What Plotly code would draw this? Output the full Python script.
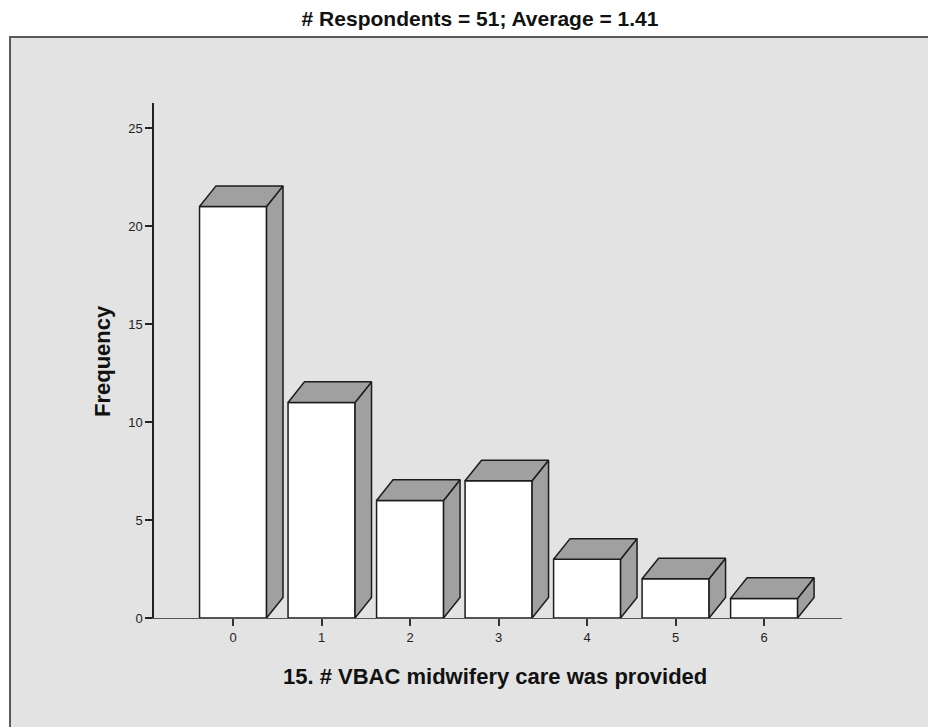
import plotly.graph_objects as go

# ---- data ----
categories = [0, 1, 2, 3, 4, 5, 6]
tick_labels = ["0", "1", "2", "3", "4", "5", "6"]
frequencies = [21, 11, 6, 7, 3, 2, 1]
y_ticks = [0, 5, 10, 15, 20, 25]
title_text = "# Respondents = 51; Average = 1.41"
x_title = "15. # VBAC midwifery care was provided"
y_title = "Frequency"

# ---- style ----
FONT = "Liberation Sans, Arial, sans-serif"
OFF = 8                     # page body margin in the browser
W, H = 936 - OFF, 727 - OFF
ML, MT = 154 - OFF, 103 - OFF
PW, PH = 688, 515
MR = W - ML - PW
MB = H - MT - PH
XR = [-0.893, 6.88]
YR = [0, 26.28]
BAR_W = 0.757
DX = 0.186     # depth offset in category units
DY = 1.05      # depth offset in value units
EDGE = "#1c1c1c"
SIDE = "#a0a0a0"
BG = "#e3e3e3"


def px_x(px):   # absolute page pixel -> paper x
    return (px - OFF - ML) / PW


def px_y(py):   # absolute page pixel -> paper y
    return (OFF + MT + PH - py) / PH


fig = go.Figure()

for c, v in zip(categories, frequencies):
    xl, xr = c - BAR_W / 2, c + BAR_W / 2
    # front face
    fig.add_trace(go.Scatter(
        x=[xl, xr, xr, xl, xl], y=[0, 0, v, v, 0],
        mode="lines", fill="toself", fillcolor="white",
        line=dict(color=EDGE, width=1.5), hoverinfo="skip", showlegend=False))
    # side face
    fig.add_trace(go.Scatter(
        x=[xr, xr, xr + DX, xr + DX, xr], y=[0, v, v + DY, DY, 0],
        mode="lines", fill="toself", fillcolor=SIDE,
        line=dict(color=EDGE, width=1.5), hoverinfo="skip", showlegend=False))
    # top face
    fig.add_trace(go.Scatter(
        x=[xl, xr, xr + DX, xl + DX, xl], y=[v, v, v + DY, v + DY, v],
        mode="lines", fill="toself", fillcolor=SIDE,
        line=dict(color=EDGE, width=1.5), hoverinfo="skip", showlegend=False))

fig.update_layout(
    width=W, height=H,
    margin=dict(l=ML, r=MR, t=MT, b=MB, pad=0),
    paper_bgcolor="white",
    plot_bgcolor="rgba(0,0,0,0)",
    font=dict(family=FONT, color="#222"),
    showlegend=False,
    title=dict(text="<b>" + title_text + "</b>", x=px_x(480), xref="paper",
               xanchor="center", y=1 - (19 - OFF) / H, yref="container", yanchor="middle",
               font=dict(family=FONT, size=21, color="#111")),
    xaxis=dict(range=XR, tickmode="array", tickvals=categories, ticktext=tick_labels,
               showgrid=False, zeroline=False, showline=True, linecolor="#555",
               linewidth=1, ticks="outside", ticklen=7, tickcolor="#333", tickwidth=2,
               tickfont=dict(size=13, color="#222"), fixedrange=True),
    yaxis=dict(range=YR, tickmode="array", tickvals=y_ticks,
               showgrid=False, zeroline=False, showline=True, linecolor="#222",
               linewidth=1.5, ticks="outside", ticklen=7, tickcolor="#222", tickwidth=1.5,
               tickfont=dict(size=13, color="#222"), fixedrange=True),
    shapes=[dict(type="rect", xref="paper", yref="paper", layer="below",
                 x0=px_x(10), x1=px_x(931),
                 y0=px_y(760), y1=px_y(37),
                 fillcolor=BG, line=dict(color="#5a5a5a", width=2))],
    annotations=[
        dict(text="<b>" + x_title + "</b>", xref="paper", yref="paper",
             x=px_x(495), y=px_y(676), xanchor="center", yanchor="middle",
             showarrow=False, font=dict(family=FONT, size=22, color="#111")),
        dict(text="<b>" + y_title + "</b>", xref="paper", yref="paper",
             x=px_x(102), y=px_y(361), xanchor="center", yanchor="middle",
             textangle=-90, showarrow=False, font=dict(family=FONT, size=22, color="#111")),
    ],
)

fig.write_html("out.html")
